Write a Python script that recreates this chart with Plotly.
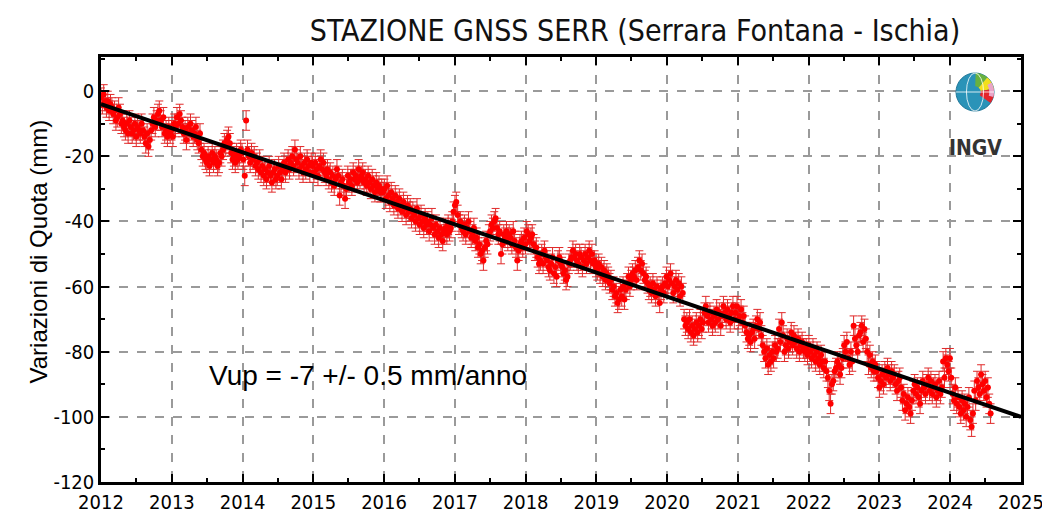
import numpy as np
import pandas as pd
import plotly.graph_objects as go

# Variazioni di quota SERR (mm), valori settimanali
vup_2012 = [-2, -4, -1, -3, -5, -3, -6, -4, -5, -7, -6, -9, -8,
            -5, -7, -10, -9, -11, -12, -10, -13, -9, -11, -13, -12, -10,
            -14, -11, -12, -13, -10, -12, -14, -16, -13, -17, -15, -12, -10,
            -8, -11, -9, -7, -6, -9, -11, -8, -13, -12, -14, -11, -13]
vup_2013 = [-12, -14, -10, -11, -8, -10, -7, -9, -11, -13, -12, -15, -11,
            -13, -10, -12, -14, -13, -11, -15, -16, -13, -18, -20, -19, -21,
            -22, -20, -23, -21, -19, -22, -20, -21, -23, -22, -19, -20, -18,
            -16, -17, -15, -14, -16, -19, -21, -20, -22, -19, -21, -20, -18]
vup_2014 = [-19, -21, -26, -9, -18, -20, -22, -19, -21, -20, -23, -22, -24,
            -21, -25, -23, -26, -24, -27, -25, -23, -26, -28, -25, -24, -27,
            -26, -23, -25, -27, -24, -22, -25, -23, -21, -24, -22, -20, -23,
            -18, -21, -22, -24, -20, -23, -25, -22, -24, -21, -23, -25, -22]
vup_2015 = [-23, -25, -22, -24, -26, -23, -21, -24, -22, -25, -26, -24, -27,
            -25, -28, -26, -29, -27, -24, -26, -32, -28, -27, -29, -33, -30,
            -26, -28, -27, -29, -25, -27, -26, -28, -24, -27, -26, -25, -28,
            -27, -29, -26, -28, -30, -27, -29, -31, -28, -30, -29, -31, -30]
vup_2016 = [-31, -30, -33, -29, -32, -34, -31, -33, -35, -32, -34, -36, -33,
            -35, -37, -34, -36, -38, -35, -37, -36, -39, -37, -38, -40, -36,
            -39, -41, -38, -40, -42, -39, -41, -40, -43, -41, -39, -42, -44,
            -41, -43, -45, -42, -44, -46, -43, -42, -44, -41, -43, -42, -40]
vup_2017 = [-37, -35, -34, -38, -41, -40, -42, -43, -41, -44, -42, -40, -43,
            -45, -44, -42, -46, -45, -48, -47, -50, -49, -52, -48, -46, -47,
            -44, -43, -41, -42, -40, -39, -42, -44, -43, -50, -47, -44, -45,
            -43, -46, -44, -45, -47, -43, -46, -48, -52, -49, -47, -46, -48]
vup_2018 = [-45, -47, -43, -44, -46, -45, -44, -47, -49, -48, -51, -53, -52,
            -50, -53, -49, -51, -52, -54, -55, -53, -51, -56, -54, -57, -52,
            -51, -53, -54, -56, -55, -58, -57, -53, -52, -51, -49, -51, -50,
            -52, -53, -50, -51, -54, -52, -50, -53, -51, -49, -52, -50, -53]
vup_2019 = [-52, -54, -55, -53, -56, -54, -57, -55, -58, -56, -57, -59, -58,
            -61, -60, -63, -62, -65, -64, -61, -63, -60, -64, -61, -59, -57,
            -60, -58, -56, -57, -55, -58, -54, -52, -55, -53, -56, -58, -57,
            -59, -61, -60, -62, -59, -61, -63, -60, -62, -65, -61, -60, -62]
vup_2020 = [-59, -57, -60, -58, -56, -59, -62, -60, -58, -61, -59, -63, -60,
            -62, -70, -72, -71, -73, -70, -74, -72, -75, -73, -71, -74, -72,
            -70, -73, -71, -68, -66, -69, -71, -68, -70, -72, -69, -71, -67,
            -70, -68, -72, -69, -66, -68, -70, -67, -69, -71, -68, -66, -70]
vup_2021 = [-68, -66, -70, -69, -67, -71, -69, -72, -74, -76, -75, -77, -74,
            -73, -76, -72, -70, -73, -71, -75, -78, -80, -82, -79, -84, -81,
            -83, -80, -82, -78, -80, -79, -73, -77, -71, -75, -80, -78, -76,
            -79, -77, -74, -78, -75, -77, -79, -76, -80, -78, -77, -79, -80]
vup_2022 = [-79, -81, -78, -80, -82, -79, -81, -83, -80, -82, -84, -81, -83,
            -85, -83, -86, -88, -92, -96, -90, -89, -86, -85, -83, -84, -87,
            -85, -82, -78, -80, -77, -82, -84, -80, -83, -72, -76, -78, -80,
            -75, -74, -72, -77, -73, -76, -80, -84, -81, -85, -83, -86, -84]
vup_2023 = [-86, -88, -91, -89, -87, -90, -86, -88, -85, -87, -89, -86, -88,
            -87, -90, -92, -89, -88, -91, -95, -93, -98, -96, -94, -97, -99,
            -95, -92, -90, -93, -91, -94, -96, -92, -89, -91, -93, -90, -88,
            -92, -89, -93, -91, -90, -94, -92, -89, -93, -91, -83, -88, -82]
vup_2024 = [-84, -86, -82, -88, -93, -95, -91, -96, -94, -97, -99, -95, -98,
            -96, -100, -97, -94, -101, -103, -99, -92, -95, -89, -91, -93, -87,
            -90, -92, -89, -94, -91, -96, -99]

vup = (vup_2012 + vup_2013 + vup_2014 + vup_2015 + vup_2016 + vup_2017 + vup_2018
       + vup_2019 + vup_2020 + vup_2021 + vup_2022 + vup_2023 + vup_2024)
dates = pd.date_range("2012-01-01", periods=len(vup), freq="7D")
sigma = 3.0

trend_dates = ["2012-01-01", "2025-01-01"]
trend_vals = [-4, -100]

year_ticks = [f"{y}-01-01" for y in range(2012, 2026)]
year_labels = [str(y) for y in range(2012, 2026)]
y_ticks = [0, -20, -40, -60, -80, -100, -120]
y_labels = ["0", "-20", "-40", "-60", "-80", "-100", "-120"]

NARROW = "Liberation Sans Narrow, Arial Narrow, DejaVu Sans Condensed, sans-serif"
REG = "Liberation Sans, Arial, sans-serif"

# la pagina ha un margine di 8px intorno alla figura
OFF = 8
W, H = 1050 - OFF, 514 - OFF
# area del grafico in pixel della finestra
L, R, T, B = 101, 1021, 57, 482


def paper(px, py):
    return (px - L) / (R - L), (B - py) / (B - T)


fig = go.Figure()
fig.add_trace(go.Scatter(
    x=dates, y=vup, mode="markers",
    marker=dict(color="#ff0000", size=6),
    error_y=dict(type="constant", value=sigma, color="#e02a2a", thickness=1, width=4),
    showlegend=False,
))
fig.add_trace(go.Scatter(
    x=trend_dates, y=trend_vals, mode="lines",
    line=dict(color="black", width=4), showlegend=False,
))

axis_common = dict(
    showline=True, linecolor="black", linewidth=2.5, mirror="allticks",
    ticks="inside", ticklen=8, tickwidth=1.5, tickcolor="black",
    showgrid=True, gridcolor="#9a9a9a", griddash="dash", gridwidth=1.5,
    zeroline=False, automargin=False,
    tickfont=dict(family=NARROW, size=20, color="black"),
)
fig.update_xaxes(range=["2012-01-01", "2025-01-01"], tickvals=year_ticks, ticktext=year_labels,
                 minor=dict(dtick="M6", ticks="inside", ticklen=4, tickcolor="black", showgrid=False),
                 **axis_common)
fig.update_yaxes(range=[-120, 10.5], tickvals=y_ticks, ticktext=y_labels,
                 minor=dict(dtick=10, ticks="inside", ticklen=4, tickcolor="black", showgrid=False),
                 **axis_common)

fig.add_annotation(x="2013-07-01", y=-87.4, xref="x", yref="y", xanchor="left", yanchor="middle",
                   text="Vup = -7 +/- 0.5 mm/anno", showarrow=False,
                   font=dict(family=REG, size=28, color="black"))
ax, ay = paper(22, 252)
fig.add_annotation(x=ax, y=ay, xref="paper", yref="paper", textangle=-90,
                   text="Variazioni di Quota (mm)", showarrow=False,
                   font=dict(family=REG, size=24, color="black"))

# logo INGV
cx, cy = paper(975, 92)
rx, ry = 19 / (R - L), 19 / (B - T)
fig.add_shape(type="circle", xref="paper", yref="paper",
              x0=cx - rx, x1=cx + rx, y0=cy - ry, y1=cy + ry,
              fillcolor="#2a93b8", line=dict(color="#1d7597", width=1))


def wedge(a0, a1, r0=0.0, r1=1.0):
    a = np.radians(np.linspace(a0, a1, 12))
    outer = [(cx + r1 * rx * np.cos(t), cy + r1 * ry * np.sin(t)) for t in a]
    inner = [(cx + r0 * rx * np.cos(t), cy + r0 * ry * np.sin(t)) for t in a[::-1]]
    pts = outer + inner
    return "M " + " L ".join(f"{x:.5f},{y:.5f}" for x, y in pts) + " Z"


for a0, a1, r0, col in [(50, 88, 0.3, "#68b13f"), (10, 50, 0.3, "#f2e01c"),
                        (-35, 10, 0.3, "#e3242b"), (-15, 30, 0.75, "#e9a5c8")]:
    fig.add_shape(type="path", xref="paper", yref="paper", path=wedge(a0, a1, r0),
                  fillcolor=col, line=dict(width=0))
# meridiani e parallelo
fig.add_shape(type="circle", xref="paper", yref="paper",
              x0=cx - 0.45 * rx, x1=cx + 0.45 * rx, y0=cy - ry, y1=cy + ry,
              line=dict(color="rgba(255,255,255,0.8)", width=1))
fig.add_shape(type="line", xref="paper", yref="paper",
              x0=cx - rx, x1=cx + rx, y0=cy, y1=cy,
              line=dict(color="rgba(255,255,255,0.8)", width=1))
lx, ly = paper(975, 134)
fig.add_annotation(x=lx, y=ly, xref="paper", yref="paper", text="<b>INGV</b>", showarrow=False,
                   xanchor="center", font=dict(family=NARROW, size=21, color="#333333"))

fig.update_layout(
    width=W, height=H,
    margin=dict(l=L - OFF, r=1050 - R, t=T - OFF, b=514 - B),
    paper_bgcolor="white", plot_bgcolor="white",
    title=dict(text="STAZIONE GNSS SERR (Serrara Fontana - Ischia)", x=(635 - OFF) / W,
               xanchor="center", y=1 - (30 - OFF) / H, yanchor="middle",
               font=dict(family=NARROW, size=30, color="#111111")),
)

fig.write_html("out.html")
